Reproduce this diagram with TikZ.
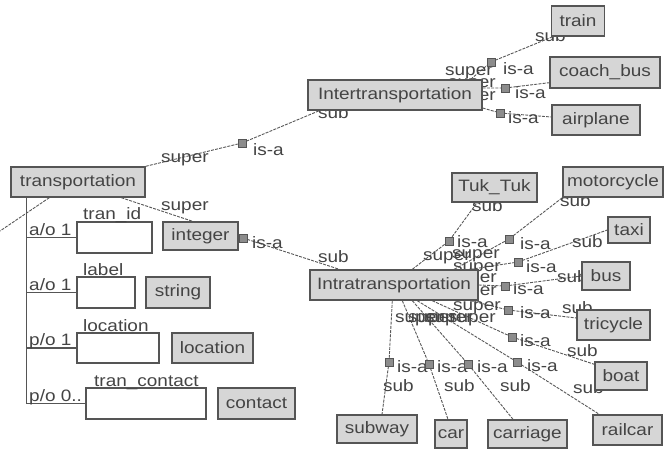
\documentclass[tikz,border=0pt]{standalone}
\usepackage{fontspec}
\setmainfont{Liberation Sans}[FakeStretch=1.15]
\usetikzlibrary{backgrounds}
\definecolor{boxfill}{HTML}{D6D6D6}
\definecolor{boxline}{HTML}{555555}
\definecolor{txt}{HTML}{444444}
\definecolor{linkc}{HTML}{585858}
\definecolor{sqfill}{HTML}{8C8C8C}
\newcommand\lblfont{\fontsize{16.5}{18}\selectfont}
\tikzset{
  cls/.style={draw=boxline, fill=boxfill, line width=1.4pt, text=txt, inner sep=0pt, font=\lblfont},
  slot/.style={draw=boxline, fill=white, line width=1.2pt, inner sep=0pt},
  lab/.style={text=txt, inner sep=0pt, anchor=base west, font=\lblfont},
  sq/.style={draw=boxline, fill=sqfill, minimum size=8pt, inner sep=0pt, line width=0.5pt},
  link/.style={draw=linkc, line width=0.9pt, dash pattern=on 3pt off 1.2pt},
  tree/.style={draw=boxline, line width=1.2pt},
}
\begin{document}
\begin{tikzpicture}[x=1pt,y=-1pt]
\useasboundingbox (0,0) rectangle (664,450);
% ---- class boxes
\node[cls,minimum width=53pt,minimum height=30pt] (train) at (578,21) {train};
\node[cls,minimum width=110pt,minimum height=31pt] (coach) at (605,72.5) {coach\_bus};
\node[cls,minimum width=88pt,minimum height=30pt] (airplane) at (596,120) {airplane};
\node[cls,minimum width=174pt,minimum height=30pt] (inter) at (395,95) {Intertransportation};
\node[cls,minimum width=134pt,minimum height=30pt] (trans) at (78,182) {transportation};
\node[cls,minimum width=75pt,minimum height=28pt] (integer) at (200.5,236) {integer};
\node[cls,minimum width=64pt,minimum height=31pt] (string) at (178,292.5) {string};
\node[cls,minimum width=81pt,minimum height=30pt] (locc) at (212.5,348) {location};
\node[cls,minimum width=77pt,minimum height=31pt] (contact) at (256.5,403.5) {contact};
\node[cls,minimum width=168pt,minimum height=30pt] (intra) at (394,285) {Intratransportation};
\node[cls,minimum width=85pt,minimum height=29pt] (tuk) at (494.5,187.5) {Tuk\_Tuk};
\node[cls,minimum width=100pt,minimum height=30pt] (moto) at (613,182) {motorcycle};
\node[cls,minimum width=42pt,minimum height=26pt] (taxi) at (629,230) {taxi};
\node[cls,minimum width=48pt,minimum height=28pt] (bus) at (606,276) {bus};
\node[cls,minimum width=73pt,minimum height=30pt] (tricycle) at (613.5,325) {tricycle};
\node[cls,minimum width=52pt,minimum height=28pt] (boat) at (621,376) {boat};
\node[cls,minimum width=69pt,minimum height=30pt] (railcar) at (627.5,430) {railcar};
\node[cls,minimum width=79pt,minimum height=28pt] (carriage) at (527.5,434) {carriage};
\node[cls,minimum width=32pt,minimum height=28pt] (car) at (451,434) {car};
\node[cls,minimum width=80pt,minimum height=28pt] (subway) at (377,429) {subway};
% ---- slot boxes
\node[slot,minimum width=75pt,minimum height=31pt] (tranid) at (114.5,237.5) {};
\node[slot,minimum width=58pt,minimum height=31pt] (labelbox) at (106,292.5) {};
\node[slot,minimum width=82pt,minimum height=30pt] (locs) at (118,348) {};
\node[slot,minimum width=120pt,minimum height=31pt] (tcon) at (146,403.5) {};
\node[lab] (st1) at (83,219) {tran\_id};
\node[lab] (st2) at (83,275) {label};
\node[lab] (st3) at (83,331) {location};
\node[lab] (st4) at (94,386) {tran\_contact};
\node[lab] (c1) at (29,235) {a/o 1};
\node[lab] (c2) at (29,290) {a/o 1};
\node[lab] (c3) at (29,345) {p/o 1};
\node[lab] (c4) at (29,401) {p/o 0..};
% ---- is-a squares
\node[sq] (q0) at (242,143) {};
\node[sq] (qi) at (243,238) {};
\node[sq] (q1) at (491,62) {};
\node[sq] (q2) at (505,88) {};
\node[sq] (q3) at (500,113) {};
\node[sq] (rtuk) at (449,241) {};
\node[sq] (rmoto) at (509,239) {};
\node[sq] (rtaxi) at (518,262) {};
\node[sq] (rbus) at (505,286) {};
\node[sq] (rtri) at (508,310) {};
\node[sq] (rboat) at (512,337) {};
\node[sq] (rrail) at (517,362) {};
\node[sq] (rcarr) at (468,364) {};
\node[sq] (rcar) at (429,364) {};
\node[sq] (rsub) at (389,362) {};
\coordinate (offl) at (0,231);
\begin{scope}[on background layer]
  % tree lines of slots
  \draw[tree] ([xshift=16pt]trans.south west) |- (tranid.west);
  \draw[tree] ([xshift=16pt]trans.south west) |- (labelbox.west);
  \draw[tree] ([xshift=16pt]trans.south west) |- (locs.west);
  \draw[tree] ([xshift=16pt]trans.south west) |- (tcon.west);
  % links
  \draw[link] (trans.north east) -- (q0) -- ([xshift=12pt]inter.south west);
  \draw[link] ([xshift=111pt]trans.south west) -- (qi) -- ([xshift=30pt]intra.north west);
  \draw[link] ([xshift=39pt]trans.south west) -- (offl);
  \draw[link] ([xshift=-12pt]inter.north east) -- (q1) -- ([xshift=2pt]train.south west);
  \draw[link] ([yshift=7pt]inter.east) -- (q2) -- ([yshift=6pt]coach.south west);
  \draw[link] ([yshift=-13pt]inter.east) -- (q3) -- ([yshift=3pt]airplane.west);
  \draw[link] ([xshift=103pt]intra.north west) -- (rtuk) -- ([xshift=-17.5pt]tuk.south);
  \draw[link] ([xshift=145pt]intra.north west) -- (rmoto) -- (moto.south west);
  \draw[link] ([xshift=-8pt]intra.north east) -- (rtaxi) -- (taxi.west);
  \draw[link] (intra.east) -- (rbus) -- (bus.west);
  \draw[link] ([xshift=-8pt]intra.south east) -- (rtri) -- ([yshift=7pt]tricycle.west);
  \draw[link] ([xshift=123pt]intra.south west) -- (rboat) -- ([yshift=-3pt]boat.north west);
  \draw[link] ([xshift=108pt]intra.south west) -- (rrail) -- ([xshift=7pt]railcar.north west);
  \draw[link] ([xshift=103pt]intra.south west) -- (rcarr) -- ([xshift=-14.5pt]carriage.north);
  \draw[link] ([xshift=93pt]intra.south west) -- (rcar) -- ([xshift=-3pt]car.north);
  \draw[link] ([xshift=83pt]intra.south west) -- (rsub) -- ([xshift=5pt]subway.north);
  % is-a labels
  \node[lab] (i0) at (253,155) {is-a};
  \node[lab] (ii) at (252,248) {is-a};
  \node[lab] (i1) at (503,74) {is-a};
  \node[lab] (i2) at (515,98) {is-a};
  \node[lab] (i3) at (508,123) {is-a};
  \node[lab] (i4) at (457,247) {is-a};
  \node[lab] (i5) at (520,249) {is-a};
  \node[lab] (i6) at (526,272) {is-a};
  \node[lab] (i7) at (513,294) {is-a};
  \node[lab] (i8) at (520,318) {is-a};
  \node[lab] (i9) at (520,346) {is-a};
  \node[lab] (i10) at (527,371) {is-a};
  \node[lab] (i11) at (477,372) {is-a};
  \node[lab] (i12) at (437,372) {is-a};
  \node[lab] (i13) at (397,372) {is-a};
  % super / sub labels
  \node[lab] (p0) at (161,162) {super};
  \node[lab] (b0) at (318,118) {sub};
  \node[lab] (pi) at (161,210) {super};
  \node[lab] (bi) at (318,262) {sub};
  \node[lab] (p1) at (445,75) {super};
  \node[lab] (b1) at (535,41) {sub};
  \node[lab] (p2) at (448,87) {super};
  \node[lab] (p3) at (448,100) {super};
  \node[lab] (p4) at (423,260) {super};
  \node[lab] (p5) at (452,258) {super};
  \node[lab] (p6) at (453,271) {super};
  \node[lab] (p7) at (449,282) {super};
  \node[lab] (p8) at (449,295) {super};
  \node[lab] (p9) at (453,310) {super};
  \node[lab] (p10) at (448,322) {super};
  \node[lab] (p11) at (425,322) {super};
  \node[lab] (p12) at (408,322) {super};
  \node[lab] (p13) at (395,322) {super};
  \node[lab] (b4) at (472,211) {sub};
  \node[lab] (b5) at (560,206) {sub};
  \node[lab] (b6) at (572,247) {sub};
  \node[lab] (b7) at (557,282) {sub};
  \node[lab] (b8) at (562,313) {sub};
  \node[lab] (b9) at (567,356) {sub};
  \node[lab] (b10) at (573,393) {sub};
  \node[lab] (b11) at (500,391) {sub};
  \node[lab] (b12) at (444,391) {sub};
  \node[lab] (b13) at (383,391) {sub};
\end{scope}
\end{tikzpicture}
\end{document}
